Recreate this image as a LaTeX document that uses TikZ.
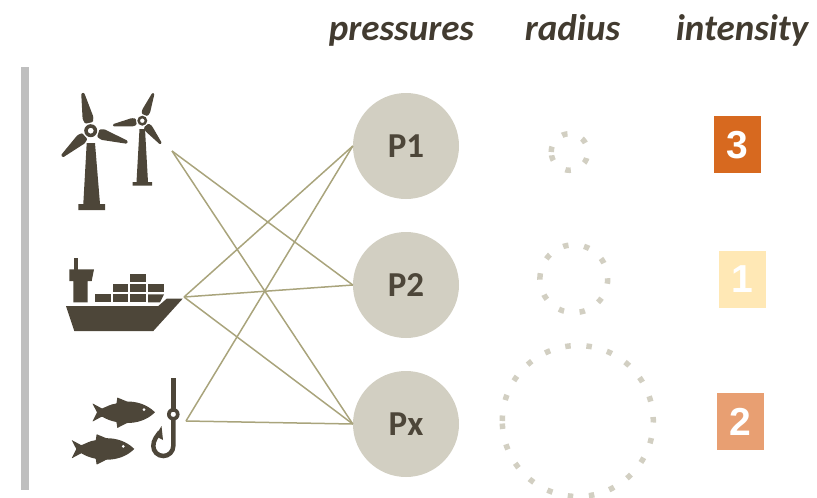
\documentclass[tikz,border=0pt]{standalone}
\usepackage{fontspec}
\setmainfont{Carlito}
\newfontfamily\digitfont{Liberation Sans}
\usepackage{tikz}
\usetikzlibrary{positioning}
\definecolor{mdark}{HTML}{4D4639}
\definecolor{msand}{HTML}{D2CFC2}
\definecolor{mline}{HTML}{A9A47C}
\definecolor{mbar}{HTML}{BFBFBF}
\definecolor{mhigh}{HTML}{D7691F}
\definecolor{mmid}{HTML}{E89F72}
\definecolor{mlow}{HTML}{FFE8B5}
\tikzstyle{pnode}=[circle, fill=msand, text=mdark, minimum size=106pt, inner sep=0pt, font=\fontsize{35}{35}\selectfont\bfseries]
\tikzstyle{head}=[anchor=base, text=mdark!85!black, font=\fontsize{37}{37}\selectfont\bfseries\itshape]
\tikzstyle{inode}=[minimum width=47pt, minimum height=57pt, inner sep=0pt, text=white, font=\digitfont\fontsize{39}{39}\selectfont\bfseries]
\tikzstyle{link}=[draw=mline, line width=1.5pt]
\tikzstyle{dots}=[draw=msand, line width=5.5pt, dash pattern=on 5.5pt off 15.7pt]
\tikzstyle{icon}=[fill=mdark, draw=none]
\newcommand{\blade}[4]{\fill[icon, rounded corners=1pt, shift={(#1,#2)}, rotate=#3, scale=#4] (8,-4) -- (13,-5.5) -- (38.5,-1.5) -- (38.5,1.5) -- (13,5.5) -- (8,4) -- cycle;}
\newcommand{\fishicon}[2]{
    \begin{scope}[shift={(#1,#2)}]
        \fill[icon, rounded corners=0.5pt] (155,412.3) .. controls (147,404.5) and (137,401.5) .. (127,401.5) -- (117.3,397.5) -- (116.5,403.5) .. controls (111,404) and (106,407) .. (102,408.5) -- (92.3,403.3) -- (97,412.3) -- (92.3,421.7) -- (102,416.5) .. controls (106,419) and (111,421) .. (116.5,422) -- (117.3,428) -- (127,423) .. controls (137,423) and (147,420) .. (155,412.3) -- cycle;
        \fill[white] (144,409.7) circle (1.5);
    \end{scope}
}
\begin{document}
\begin{tikzpicture}[x=1pt, y=-1pt]
    \useasboundingbox (0,0) rectangle (817,498);
    \fill[mbar] (21,67) rectangle (29,490);

    \node[head] at (401.5,40) (hp) {pressures};
    \node[head] at (572.5,40) (hr) {radius};
    \node[head] at (742,40) (hi) {intensity};

    \coordinate (wind) at (172,151);
    \coordinate (ship) at (184,297);
    \coordinate (fish) at (186,421);

    \node[pnode] at (406,146) (p1) {\raisebox{-8pt}{P1}};
    \node[pnode] at (406,285) (p2) {\raisebox{-8pt}{P2}};
    \node[pnode] at (406,424) (px) {\raisebox{-8pt}{Px}};

    \draw[link] (wind) -- (p2.west);
    \draw[link] (wind) -- (px.west);
    \draw[link] (ship) -- (p1.west);
    \draw[link] (ship) -- (p2.west);
    \draw[link] (ship) -- (px.west);
    \draw[link] (fish) -- (p1.west);
    \draw[link] (fish) -- (px.west);

    % radius
    \draw[dots] (569.5,152) ++(-180:18.3) arc[start angle=-180, delta angle=360, radius=18.3];
    \draw[dots] (573.8,278.7) ++(-180:33.9) arc[start angle=-180, delta angle=360, radius=33.9];
    \draw[dots] (577.8,421) ++(-180:75.5) arc[start angle=-180, delta angle=360, radius=75.5];

    % intensity
    \node[inode, fill=mhigh] at (737.3,144.8) (i3) {\raisebox{-3pt}{3}};
    \node[inode, fill=mlow] at (742.3,279.3) (i1) {\raisebox{-3pt}{1}};
    \node[inode, fill=mmid] at (740.2,421.5) (i2) {\raisebox{-3pt}{2}};

    % turbines
    \fill[icon] (86.7,143) -- (95,143) -- (100,204) -- (105,204) -- (105,210) -- (78.3,210) -- (78.3,204) -- (83.3,204) -- cycle;
    \fill[icon, even odd rule] (90.7,130.7) circle (6.5) (90.7,130.7) circle (3);
    \blade{90.7}{130.7}{102}{1}
    \blade{90.7}{130.7}{-17.6}{1}
    \blade{90.7}{130.7}{221.7}{1}
    \fill[icon] (139.5,129) -- (145,129) -- (148,182) -- (152,182) -- (152,185.7) -- (132.7,185.7) -- (132.7,182) -- (136.5,182) -- cycle;
    \fill[icon, even odd rule] (142.3,120.7) circle (5) (142.3,120.7) circle (2.3);
    \blade{142.3}{120.7}{68}{0.77}
    \blade{142.3}{120.7}{189}{0.77}
    \blade{142.3}{120.7}{-51}{0.77}

    % ship
    \fill[icon] (66,306) -- (158.3,306) -- (166.7,298.7) -- (182.7,298.7) -- (153.3,331) -- (74.3,331) -- cycle;
    \fill[icon] (69.3,269.3) -- (94,269.3) -- (91.7,281) -- (87.7,281) -- (87.7,302.3) -- (73.3,302.3) -- (73.3,281) -- (69.3,281) -- cycle;
    \fill[icon] (74,258.3) rectangle (78,270);
    \foreach \x in {95,112.7,130.3} \fill[icon] (\x,294.3) rectangle ++(15.7,8);
    \fill[icon] (148,294.3) -- (164,294.3) -- (160,302.3) -- (148,302.3) -- cycle;
    \foreach \x in {112.7,130.3,148} \fill[icon] (\x,284.3) rectangle ++(15.7,8);
    \fill[icon] (130.3,274.3) rectangle ++(15.7,8);

    % fish and hook
    \fishicon{0}{0}
    \fishicon{-20.7}{36.7}
    \fill[icon] (170.7,378.3) rectangle (176,412);
    \fill[icon, even odd rule] (173.3,414.3) circle (6.3) (173.3,414.3) circle (2.7);
    \draw[mdark, line width=4.5pt] (173.3,419) -- (173.3,446) arc[start angle=0, delta angle=180, radius=10] .. controls (153.3,440) and (157,436) .. (160,432);
    \fill[icon] (161.5,426) -- (163,440) -- (155.5,436) -- cycle;
\end{tikzpicture}
\end{document}
